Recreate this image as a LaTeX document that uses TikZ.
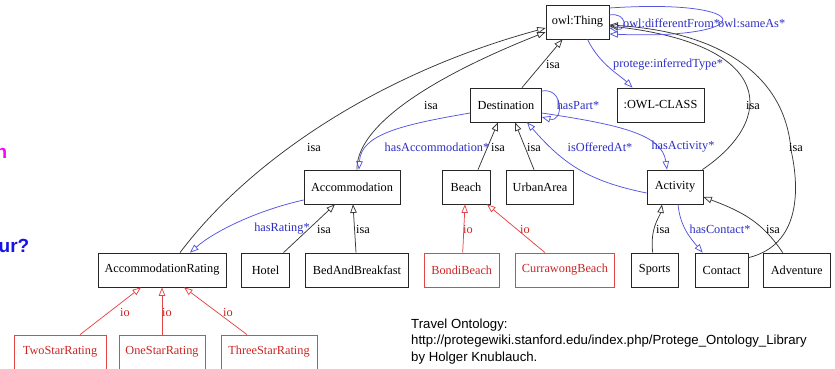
\documentclass[tikz,border=0pt]{standalone}
\usepackage{fontspec}
\setmainfont{Liberation Serif}
\newfontfamily\arialf{Liberation Sans}
\usetikzlibrary{arrows.meta,calc}
\definecolor{blueE}{RGB}{85,85,225}
\definecolor{blueT}{RGB}{45,45,195}
\definecolor{redE}{RGB}{228,70,70}
\definecolor{redT}{RGB}{205,35,35}
\definecolor{grayE}{RGB}{55,55,55}
\definecolor{magT}{RGB}{255,0,255}
\definecolor{blueQ}{RGB}{20,20,230}
\begin{document}
\begin{tikzpicture}[x=1pt,y=-1pt,
  box/.style={draw=black!85, line width=0.75pt, minimum height=34pt, inner sep=0pt, font=\fontsize{12.3}{14}\selectfont},
  rbox/.style={box, draw=redE, text=redT},
  tip/.style={-{Triangle[open,length=8.5pt,width=6.5pt]}},
  isa/.style={draw=grayE, line width=0.75pt, tip},
  rel/.style={draw=blueE, line width=0.75pt, tip},
  io/.style={draw=redE, line width=0.75pt, tip},
  lbl/.style={font=\fontsize{12.3}{14}\selectfont, inner sep=0pt, text=black},
  blbl/.style={lbl, text=blueT},
  rlbl/.style={lbl, text=redT}]
\useasboundingbox (0,0) rectangle (835,368);
% nodes
\node[box, minimum width=63pt] (thing) at (577.5,22) {owl:Thing};
\node[box, minimum width=87pt] (owl) at (660.5,105) {:OWL-CLASS};
\node[box, minimum width=71pt] (dest) at (506,105) {Destination};
\node[box, minimum width=96pt] (acc) at (352,187) {Accommodation};
\node[box, minimum width=48pt] (beach) at (466,187) {Beach};
\node[box, minimum width=67pt] (urban) at (540,187) {UrbanArea};
\node[box, minimum width=56pt] (act) at (675,187) {Activity};
\node[box, minimum width=128pt] (accr) at (162,270) {AccommodationRating};
\node[box, minimum width=48pt] (hotel) at (265.5,270) {Hotel};
\node[box, minimum width=103pt] (bnb) at (357,270) {BedAndBreakfast};
\node[rbox, minimum width=75pt] (bondi) at (461.7,270) {BondiBeach};
\node[rbox, minimum width=99pt] (curr) at (565,270) {CurrawongBeach};
\node[box, minimum width=47pt] (sports) at (654.7,270) {Sports};
\node[box, minimum width=53pt] (contact) at (721.7,270) {Contact};
\node[box, minimum width=67pt] (adv) at (796.7,270) {Adventure};
\node[rbox, minimum width=92pt] (two) at (60,352) {TwoStarRating};
\node[rbox, minimum width=86pt] (one) at (162,352) {OneStarRating};
\node[rbox, minimum width=96pt] (three) at (269,352) {ThreeStarRating};
% isa edges
\draw[isa] ($(dest.north)+(16,0)$) -- ($(thing.south)+(-15,0)$);
\draw[isa] ($(acc.north)+(5,0)$) .. controls +(-1,-40) and +(-126,50) .. ($(thing.west)+(0,10)$);
\draw[isa] ($(accr.north)+(18,0)$) .. controls +(70,-93) and +(-166,45) .. ($(thing.west)+(0,6)$);
\draw[isa] ($(act.north east)+(-1,0)$) .. controls +(74,-50) and +(166,19) .. ($(thing.east)+(0,4)$);
\coordinate (cw) at (791,150);
\draw[isa] ($(contact.north east)+(0,5)$) .. controls (800,245) and (800,190) .. (cw) .. controls (785,75) and (720,32) .. ($(thing.east)+(0,3)$);
\draw[isa] ($(beach.north)+(12,0)$) -- ($(dest.south)+(-8,0)$);
\draw[isa] ($(urban.north)+(-6,0)$) -- ($(dest.south)+(9,0)$);
\draw[isa] ($(hotel.north)+(18,0)$) -- ($(acc.south)+(-17,0)$);
\draw[isa] ($(bnb.north)+(-1,0)$) -- ($(acc.south)+(1,0)$);
\draw[isa] ($(sports.north)+(-2,0)$) .. controls +(-3,-25) and +(-2,12) .. ($(act.south)+(-13,0)$);
\draw[isa] ($(adv.north)+(-14,0)$) .. controls +(-20,-30) and +(40,15) .. ($(act.east)+(0,10)$);
% relation edges
\draw[rel] ($(thing.east)+(0,-7)$) .. controls +(18,-3) and +(18,3) .. ($(thing.east)+(0,6)$);
\draw[rel] ($(thing.east)+(0,-14)$) .. controls +(150,-10) and +(150,6) .. ($(thing.east)+(0,12)$);
\draw[rel] ($(thing.south)+(10,0)$) .. controls +(12,25) and +(-12,-12) .. ($(owl.north)+(-28,0)$);
\draw[rel] ($(dest.east)+(0,-14)$) .. controls +(22,-4) and +(22,6) .. ($(dest.east)+(0,12)$);
\draw[rel] ($(dest.west)+(0,8)$) .. controls +(-70,12) and +(2,-35) .. ($(acc.north)+(7,0)$);
\draw[rel] ($(dest.east)+(0,8)$) .. controls +(80,12) and +(-5,-35) .. ($(act.north)+(-8,0)$);
\draw[rel] ($(act.west)+(0,6)$) .. controls +(-60,-12) and +(35,40) .. ($(dest.south)+(21,0)$);
\draw[rel] ($(acc.west)+(0,13)$) .. controls +(-45,10) and +(25,-22) .. ($(accr.north)+(28,0)$);
\draw[rel] ($(act.south)+(3,0)$) .. controls +(2,22) and +(-12,-14) .. ($(contact.north)+(-19,0)$);
% io edges
\draw[io] ($(bondi.north)+(1,0)$) -- ($(beach.south)+(-1,0)$);
\draw[io] ($(curr.north)+(-20,0)$) -- ($(beach.south)+(21,0)$);
\draw[io] ($(two.north)+(20,0)$) -- ($(accr.south)+(-21,0)$);
\draw[io] (one.north) -- (accr.south);
\draw[io] ($(three.north)+(-22,0)$) -- ($(accr.south)+(22,0)$);
% labels
\node[lbl] (l1) at (553,64) {isa};
\node[lbl] (l2) at (431,105) {isa};
\node[lbl] (l3) at (314,147) {isa};
\node[lbl] (l4) at (753,105) {isa};
\node[lbl] (l5) at (796,147) {isa};
\node[lbl] (l6) at (498,147) {isa};
\node[lbl] (l7) at (534,147) {isa};
\node[lbl] (l8) at (324,229) {isa};
\node[lbl] (l9) at (363,229) {isa};
\node[lbl] (l10) at (663,229) {isa};
\node[lbl] (l11) at (773,229) {isa};
\node[blbl] (b1) at (437,147) {hasAccommodation*};
\node[blbl] (b2) at (683,147) {hasActivity*};
\node[blbl] (b3) at (600,147) {isOfferedAt*};
\node[blbl] (b4) at (578,105) {hasPart*};
\node[blbl] (b5) at (668,64) {protege:inferredType*};
\node[blbl, anchor=west] (b6) at (623,23) {owl:differentFrom*};
\node[blbl, anchor=west] (b7) at (718,23) {owl:sameAs*};
\node[blbl] (b8) at (282,229) {hasRating*};
\node[blbl] (b9) at (720,229) {hasContact*};
\node[rlbl] (r1) at (468,229) {io};
\node[rlbl] (r2) at (525,229) {io};
\node[rlbl] (r3) at (125,312) {io};
\node[rlbl] (r4) at (167,312) {io};
\node[rlbl] (r5) at (228,312) {io};
% caption
\node[anchor=north west, inner sep=0pt, align=left, font=\arialf\fontsize{13.2}{16.5}\selectfont] (cap) at (411,318.5)
  {Travel Ontology:\\http://protegewiki.stanford.edu/index.php/Protege\_Ontology\_Library\\by Holger Knublauch.};
% cropped fragments at left edge
\node[anchor=base west, inner sep=0pt, text=magT, font=\arialf\bfseries\fontsize{19}{22}\selectfont] (fr1) at (-4.5,158) {n};
\node[anchor=base west, inner sep=0pt, text=blueQ, font=\arialf\bfseries\fontsize{19}{22}\selectfont] (fr2) at (-1.5,252) {ur?};
\end{tikzpicture}
\end{document}
